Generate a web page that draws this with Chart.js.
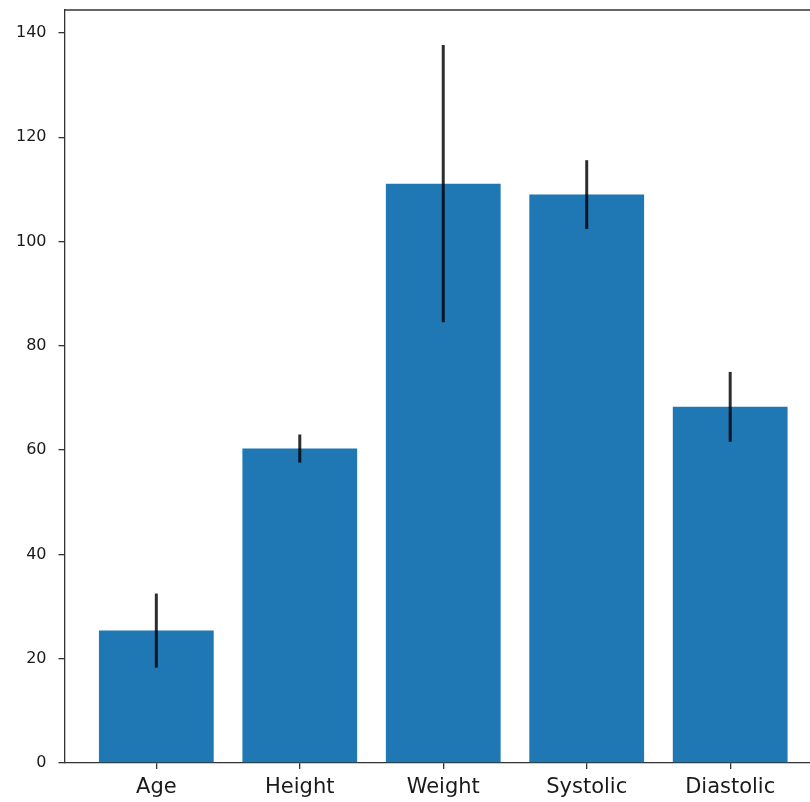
<!DOCTYPE html>
<html>
<head>
<meta charset="utf-8">
<script src="https://cdn.jsdelivr.net/npm/chart.js@4/dist/chart.umd.min.js"></script>
<style>
  html, body { margin: 0; padding: 0; background: #fff; overflow: hidden; }
  #wrap { width: 822px; height: 802px; }
</style>
</head>
<body>
<div id="wrap"><canvas id="myChart" width="822" height="802"></canvas></div>
<script>
// data
const categories = ['Age', 'Height', 'Weight', 'Systolic', 'Diastolic'];
const means = [25.4, 60.3, 111.1, 109.0, 68.3];
const errors = [7.1, 2.7, 26.6, 6.6, 6.7];
const yTicks = [0, 20, 40, 60, 80, 100, 120, 140];

// error bars + top spine, drawn through the chart's scales
const errorBarPlugin = {
    id: 'errorBars',
    afterDatasetsDraw(chart) {
        const ctx = chart.ctx;
        const x = chart.scales.x, y = chart.scales.y;
        ctx.save();
        ctx.strokeStyle = 'rgba(0,0,0,0.82)';
        ctx.lineWidth = 3;
        means.forEach((m, i) => {
            const px = x.getPixelForValue(i);
            ctx.beginPath();
            ctx.moveTo(px, y.getPixelForValue(m - errors[i]));
            ctx.lineTo(px, y.getPixelForValue(m + errors[i]));
            ctx.stroke();
        });
        // top spine
        const a = chart.chartArea;
        ctx.strokeStyle = '#333';
        ctx.lineWidth = 1.3;
        ctx.beginPath();
        ctx.moveTo(a.left, a.top);
        ctx.lineTo(a.right, a.top);
        ctx.stroke();
        ctx.restore();
    }
};

const ctx = document.getElementById('myChart').getContext('2d');
new Chart(ctx, {
    type: 'bar',
    data: {
        datasets: [{
            data: means.map((v, i) => ({ x: i, y: v })),
            backgroundColor: '#1f77b4',
            barPercentage: 0.8,
            categoryPercentage: 1.0
        }]
    },
    options: {
        responsive: false,
        animation: false,
        layout: { padding: { top: 10, left: 0, right: 0, bottom: 0 } },
        plugins: { legend: { display: false }, tooltip: { enabled: false } },
        scales: {
            x: {
                type: 'linear',
                offset: false,
                min: -0.64, max: 4.64,
                afterBuildTicks: (scale) => { scale.ticks = categories.map((c, i) => ({ value: i })); },
                afterFit: (scale) => {
                    scale.height = 39;
                    scale.paddingLeft = 0; scale.paddingRight = 0;
                    scale.paddingTop = 0; scale.paddingBottom = 0;
                },
                ticks: {
                    callback: (v) => categories[v],
                    font: { family: 'DejaVu Sans', size: 21 },
                    color: '#1a1a1a',
                    padding: 6,
                    maxRotation: 0,
                    autoSkip: false
                },
                grid: { offset: false, drawOnChartArea: false, drawTicks: true, tickLength: 6, color: '#333', lineWidth: 1.3 },
                border: { display: true, color: '#333', width: 1.3 }
            },
            y: {
                min: 0, max: 144.4,
                afterBuildTicks: (scale) => { scale.ticks = yTicks.map(v => ({ value: v })); },
                afterFit: (scale) => {
                    scale.width = 64.5;
                    scale.paddingTop = 0; scale.paddingBottom = 0;
                    scale.paddingLeft = 0; scale.paddingRight = 0;
                },
                ticks: {
                    font: { family: 'DejaVu Sans', size: 16 },
                    color: '#1a1a1a',
                    padding: 12
                },
                grid: { drawOnChartArea: false, drawTicks: true, tickLength: 6, color: '#333', lineWidth: 1.3 },
                border: { display: true, color: '#333', width: 1.3 }
            }
        }
    },
    plugins: [errorBarPlugin]
});
</script>
</body>
</html>
